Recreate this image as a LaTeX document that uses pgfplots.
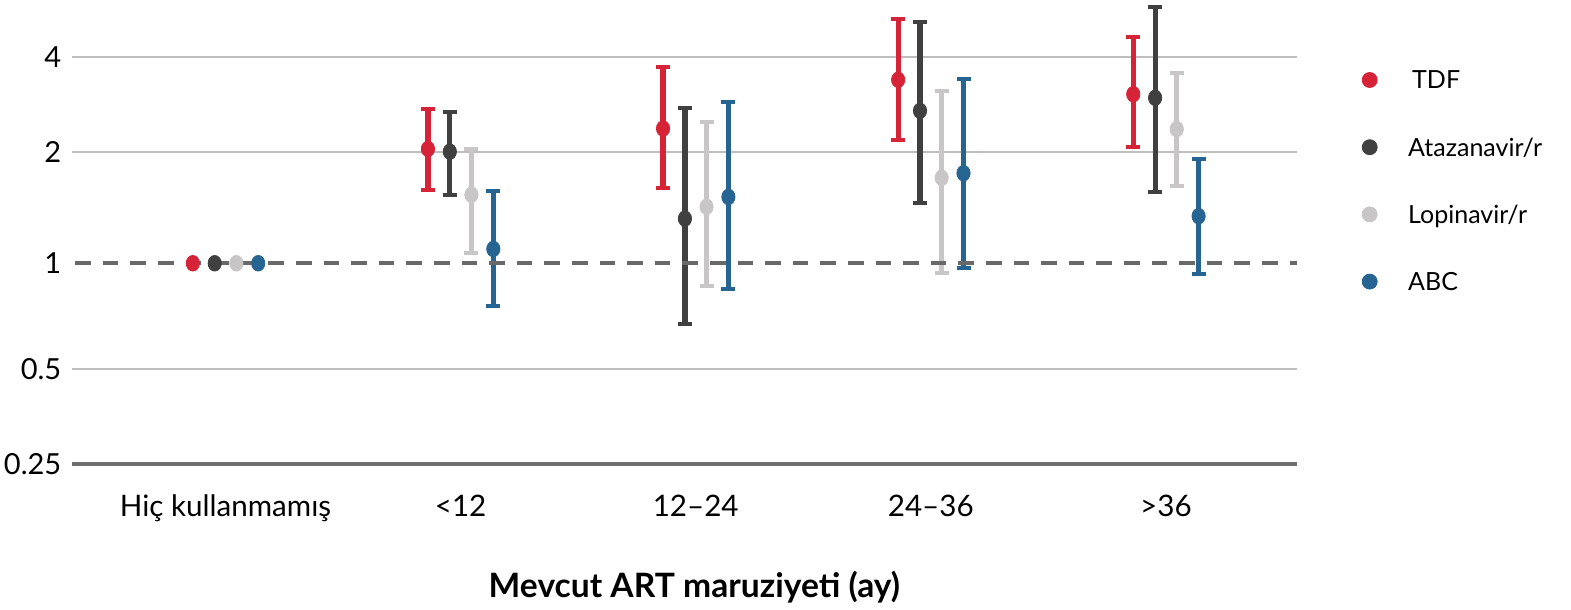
\documentclass[border=0pt]{standalone}
\usepackage{pgfplots}
\pgfplotsset{compat=1.18}
\usepackage{fontspec}
\setmainfont{Lato}
\definecolor{cTDF}{RGB}{215,35,55}
\definecolor{cATV}{RGB}{64,64,64}
\definecolor{cLPV}{RGB}{200,198,198}
\definecolor{cABC}{RGB}{38,100,145}
\definecolor{cGrid}{RGB}{190,190,190}
\definecolor{cRef}{RGB}{105,105,105}
\definecolor{cAxis}{RGB}{110,110,110}
% confidence interval: colour, x, lower, upper
\newcommand{\ci}[4]{\addplot[color=#1, line width=2.6pt, mark=-, mark size=3.5pt, mark options={line width=2pt, solid}, forget plot] coordinates {(#2,#3) (#2,#4)};}
\begin{document}
\begin{tikzpicture}
\begin{axis}[
  name=ax,
  x=117.55pt, y=0.5pt,
  xmin=-0.653, xmax=4.558,
  ymin=0.25, ymax=6.09,
  y coord trafo/.code={\pgfmathparse{ln(#1)/ln(2)}\let\Lv\pgfmathresult
     \pgfmathparse{ifthenelse(\Lv<=-1, 95*(\Lv+2), ifthenelse(\Lv<=0, 95+105.7*(\Lv+1), ifthenelse(\Lv<=1, 200.7+111.6*\Lv, 312.3+94.4*(\Lv-1))))}},
  ytick={0.25,0.5,1,2,4}, yticklabels={0.25,0.5,1,2,4},
  xtick={0,1,2,3,4}, xticklabels={Hiç kullanmamış,{<12},12–24,24–36,{>36}},
  axis line style={draw=none},
  major tick length=0pt,
  /pgf/number format/assume math mode=true,
  clip=false,
  yticklabel style={font=\fontsize{14.5}{17}\selectfont, anchor=east, inner sep=0pt, xshift=-5.15pt},
  xticklabel style={font=\fontsize{14.8}{17}\selectfont, anchor=base, inner sep=0pt, yshift=-26.5pt},
  xlabel={\bfseries Mevcut ART maruziyeti (ay)},
  xlabel style={font=\fontsize{16.8}{19}\selectfont, at={(axis description cs:0.508,0)}, anchor=base, inner sep=0pt, yshift=-66.8pt},
  legend cell align=left,
  legend image code/.code={\draw[#1] plot coordinates {(0pt,0pt)};},
  legend style={draw=none, fill=none, inner sep=0pt, outer sep=0pt,
    at={(axis description cs:1,1)}, anchor=north west, xshift=32.55pt, yshift=-32.5pt,
    row sep=18.6pt, column sep=15.5pt,
    nodes={inner sep=0pt, text height=12pt, text depth=3pt},
    font=\fontsize{12.5}{15}\selectfont},
]
% grid lines
\addplot[color=cGrid, line width=1pt, forget plot] coordinates {(-0.653,4) (4.558,4)};
\addplot[color=cGrid, line width=1pt, forget plot] coordinates {(-0.653,2) (4.558,2)};
\addplot[color=cGrid, line width=1pt, forget plot] coordinates {(-0.653,0.5) (4.558,0.5)};
\addplot[color=cAxis, line width=2pt, forget plot] coordinates {(-0.653,0.25) (4.558,0.25)};

% TDF
\ci{cTDF}{0.861}{1.58}{2.73}
\ci{cTDF}{1.861}{1.60}{3.72}
\ci{cTDF}{2.861}{2.18}{5.30}
\ci{cTDF}{3.861}{2.07}{4.63}
% Atazanavir/r
\ci{cATV}{0.954}{1.53}{2.67}
\ci{cATV}{1.954}{0.670}{2.76}
\ci{cATV}{2.954}{1.45}{5.19}
\ci{cATV}{3.954}{1.56}{5.80}
% Lopinavir/r
\ci{cLPV}{1.046}{1.064}{2.04}
\ci{cLPV}{2.046}{0.863}{2.49}
\ci{cLPV}{3.046}{0.940}{3.13}
\ci{cLPV}{4.046}{1.62}{3.57}
% ABC
\ci{cABC}{1.139}{0.757}{1.57}
\ci{cABC}{2.139}{0.843}{2.88}
\ci{cABC}{3.139}{0.971}{3.40}
\ci{cABC}{4.139}{0.932}{1.91}

% point estimates
\addplot[only marks, mark=*, color=cTDF, mark size=3.9pt, mark options={xscale=0.85}, forget plot]
  coordinates {(-0.139,1) (0.861,2.04) (1.861,2.37) (2.861,3.39) (3.861,3.05)};
\addplot[only marks, mark=*, color=cATV, mark size=3.9pt, mark options={xscale=0.85}, forget plot]
  coordinates {(-0.046,1) (0.954,2.00) (1.954,1.32) (2.954,2.70) (3.954,2.97)};
\addplot[only marks, mark=*, color=cLPV, mark size=3.9pt, mark options={xscale=0.85}, forget plot]
  coordinates {(0.046,1) (1.046,1.53) (2.046,1.42) (3.046,1.70) (4.046,2.36)};
\addplot[only marks, mark=*, color=cABC, mark size=3.9pt, mark options={xscale=0.85}, forget plot]
  coordinates {(0.139,1) (1.139,1.093) (2.139,1.51) (3.139,1.75) (4.139,1.34)};

% reference line at 1
\addplot[color=cRef, line width=2pt, dash pattern=on 7.8pt off 6pt, forget plot] coordinates {(-0.639,1) (4.558,1)};

\addlegendimage{only marks, mark=*, mark size=3.75pt, color=cTDF}
\addlegendentry{\hspace{2pt}TDF}
\addlegendimage{only marks, mark=*, mark size=3.75pt, color=cATV}
\addlegendentry{Atazanavir/r}
\addlegendimage{only marks, mark=*, mark size=3.75pt, color=cLPV}
\addlegendentry{Lopinavir/r}
\addlegendimage{only marks, mark=*, mark size=3.75pt, color=cABC}
\addlegendentry{ABC}
\end{axis}
\pgfresetboundingbox
\path[use as bounding box] (ax.south west) ++(-36pt,-73pt) rectangle ++(785.5pt,305pt);
\end{tikzpicture}
\end{document}
